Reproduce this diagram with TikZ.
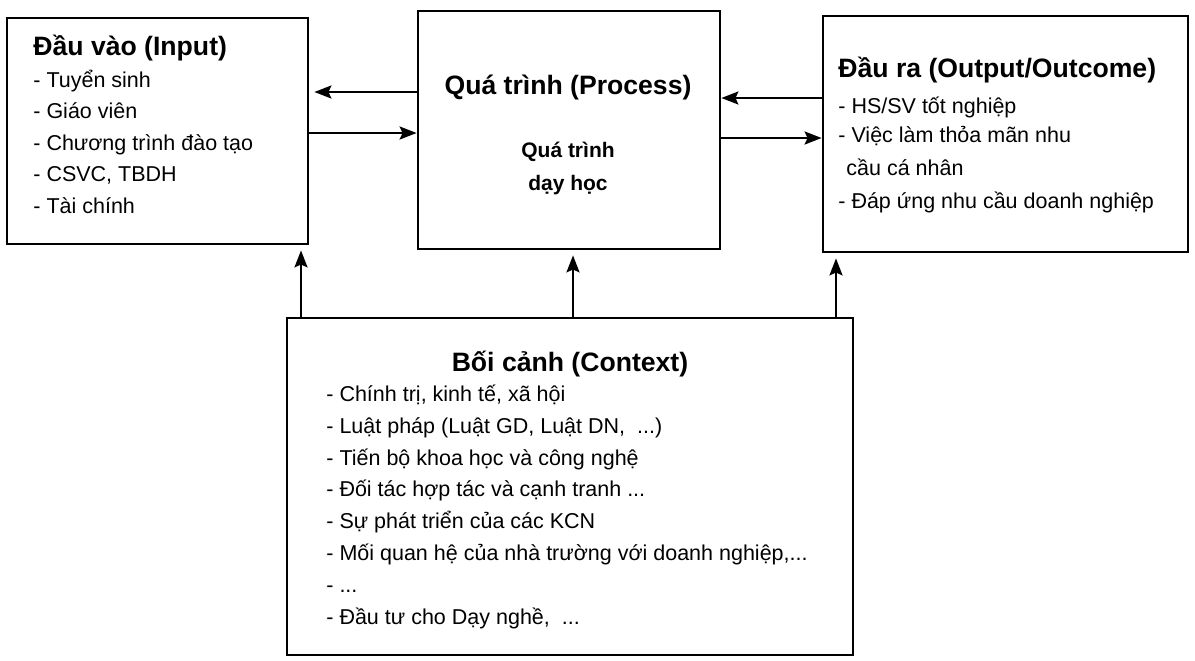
\documentclass[tikz,border=0pt]{standalone}
\usepackage{fontspec}
\setmainfont{Liberation Sans}
\usetikzlibrary{arrows.meta,fit}

\newcommand{\tdots}{...}

\begin{document}
\begin{tikzpicture}[x=0.5pt, y=-0.5pt,
    box/.style={draw, line width=1.4pt, inner sep=0pt},
    title/.style={font=\fontsize{13.3}{16}\selectfont\bfseries, inner sep=0pt},
    item/.style={font=\fontsize{10.75}{16}\selectfont, anchor=mid west, inner sep=0pt},
    arr/.style={line width=1.3pt, -{Stealth[length=8.5pt, width=6.5pt, inset=1.5pt]}}]
    \useasboundingbox (0,0) rectangle (1195,660);

    % Boxes
    \node[box, fit={(7,18) (308,244)}] (inp) {};
    \node[box, fit={(418,11) (720,249)}] (proc) {};
    \node[box, fit={(823,16) (1188,252)}] (outp) {};
    \node[box, fit={(287,318) (853,655)}] (ctx) {};

    % Input
    \node[title, anchor=mid west] (inpT) at (33,50) {Đầu vào (Input)};
    \foreach \t [count=\i] in {{- Tuyển sinh}, {- Giáo viên}, {- Chương trình đào tạo},
        {- CSVC, TBDH}, {- Tài chính}}
        \node[item] (inp\i) at (33,{82+31.5*(\i-1)}) {\t};

    % Process
    \node[title, anchor=mid] (procT) at (568,89) {Quá trình (Process)};
    \node[font=\fontsize{10.5}{16}\selectfont\bfseries, inner sep=0pt, anchor=mid] (proc1) at (568,152) {Quá trình};
    \node[font=\fontsize{10.5}{16}\selectfont\bfseries, inner sep=0pt, anchor=mid] (proc2) at (568,185) {dạy học};

    % Output
    \node[title, anchor=mid west] (outpT) at (838,72) {Đầu ra (Output/Outcome)};
    \node[item] (outp1) at (838,108) {- HS/SV tốt nghiệp};
    \node[item] (outp2) at (838,137) {- Việc làm thỏa mãn nhu};
    \node[item] (outp3) at (846,170) {cầu cá nhân};
    \node[item] (outp4) at (838,203) {- Đáp ứng nhu cầu doanh nghiệp};

    % Context
    \node[title, anchor=mid] (ctxT) at (570,366) {Bối cảnh (Context)};
    \foreach \t [count=\i] in {{- Chính trị, kinh tế, xã hội},
        {- Luật pháp (Luật GD, Luật DN,\ \ \tdots)},
        {- Tiến bộ khoa học và công nghệ},
        {- Đối tác hợp tác và cạnh tranh \tdots},
        {- Sự phát triển của các KCN},
        {- Mối quan hệ của nhà trường với doanh nghiệp,\tdots},
        {- \tdots},
        {- Đầu tư cho Dạy nghề,\ \ \tdots}}
        \node[item] (ctx\i) at (326,{396+31.9*(\i-1)}) {\t};

    % Arrows between the boxes
    \draw[arr, shorten >=2.5pt] (proc.west |- 0,92) -- (inp.east |- 0,92);
    \draw[arr] (inp.east |- 0,133) -- (proc.west |- 0,133);
    \draw[arr] (outp.west |- 0,98) -- (proc.east |- 0,98);
    \draw[arr] (proc.east |- 0,138) -- (outp.west |- 0,138);

    % Context acts on all three
    \draw[arr, shorten >=2.5pt] (ctx.north -| 301,0) -- (inp.south -| 301,0);
    \draw[arr, shorten >=2.5pt] (ctx.north -| 573,0) -- (proc.south -| 573,0);
    \draw[arr, shorten >=2.5pt] (ctx.north -| 836,0) -- (outp.south -| 836,0);
\end{tikzpicture}
\end{document}
